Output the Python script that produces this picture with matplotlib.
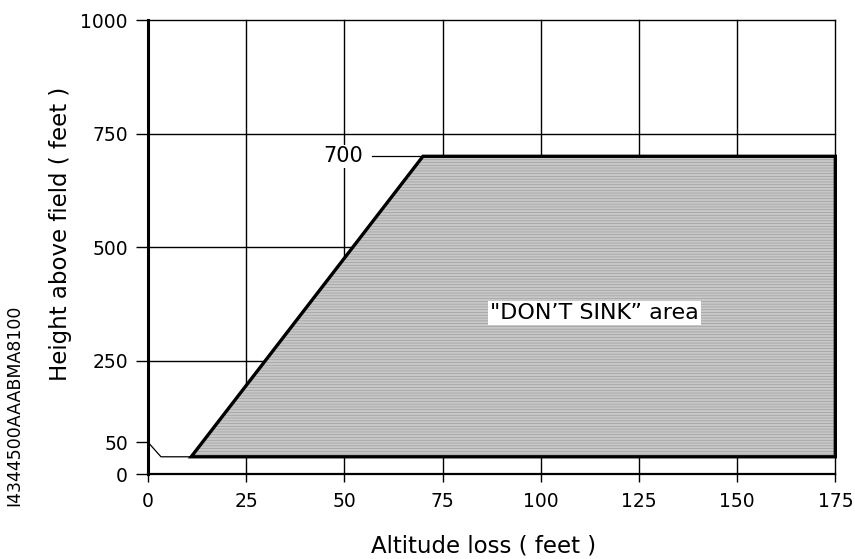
import matplotlib
matplotlib.use("Agg")
import matplotlib.pyplot as plt
from matplotlib.patches import Polygon

plt.rcParams['font.family'] = ['DejaVu Sans']
plt.rcParams['hatch.linewidth'] = 0.5

# Data
x_ticks = [0, 25, 50, 75, 100, 125, 150, 175]
x_tick_labels = ['0', '25', '50', '75', '100', '125', '150', '175']
y_tick_pos = [0, 70, 250, 500, 750, 1000]
y_tick_labels = ['0', '50', '250', '500', '750', '1000']
grid_y = [250, 500, 750, 1000]
area_x = [11, 70, 175, 175]
area_y = [38, 700, 700, 38]
lead_x = [0, 3.3, 11]
lead_y = [70, 38, 38]
label_700_x = [57, 70]
label_700_y = [700, 700]

fig = plt.figure(figsize=(8.55, 5.59), dpi=100)
ax = fig.add_axes([0.1731, 0.152, 0.8039, 0.812])
ax.set_xlim(0, 175)
ax.set_ylim(0, 1000)

for s in ['top', 'right']:
    ax.spines[s].set_visible(False)
ax.spines['left'].set_linewidth(2.2)
ax.spines['bottom'].set_linewidth(1.6)

# grid
for gx in x_ticks[1:]:
    ax.plot([gx, gx], [0, 1000], color='black', lw=1.0, clip_on=False, zorder=1)
for gy in grid_y:
    ax.plot([0, 175], [gy, gy], color='black', lw=1.0, clip_on=False, zorder=1)

# area: textured fill + black outline
pts = list(zip(area_x, area_y))
fill = Polygon(pts, closed=True, facecolor='#c8c8c8', edgecolor='#9e9e9e',
               lw=0, hatch='------', zorder=3, clip_on=False)
ax.add_patch(fill)
outline = Polygon(pts, closed=True, facecolor='none', edgecolor='black',
                  lw=2.4, zorder=3.5, clip_on=False)
ax.add_patch(outline)

ax.plot(lead_x, lead_y, color='black', lw=0.9, zorder=4)
ax.plot(label_700_x, label_700_y, color='black', lw=0.9, zorder=4)
ax.text(54.8, 700, '700', ha='right', va='center', fontsize=15,
        bbox=dict(facecolor='white', edgecolor='none', pad=1.0), zorder=5)

ax.text(113.6, 355, '"DON\u2019T SINK\u201d area', ha='center', va='center', fontsize=16,
        bbox=dict(facecolor='white', edgecolor='none', pad=1.5), zorder=5)

ax.set_xticks(x_ticks)
ax.set_xticklabels(x_tick_labels, fontsize=13.5)
ax.set_yticks(y_tick_pos)
ax.set_yticklabels(y_tick_labels, fontsize=13.5)
ax.tick_params(axis='x', direction='out', length=6, width=1.0, pad=7)
ax.tick_params(axis='y', direction='out', length=8.5, width=1.0, pad=6)

fig.text(0.566, 0.0233, 'Altitude loss ( feet )', fontsize=16.5,
         ha='center', va='center')
fig.text(0.0702, 0.5814, 'Height above field ( feet )', fontsize=16.5,
         rotation=90, ha='center', va='center')

fig.text(0.0164, 0.2755, 'I4344500AAABMA8100', rotation=90, fontsize=12.5,
         ha='center', va='center')

fig.savefig('out.png', dpi=100)
